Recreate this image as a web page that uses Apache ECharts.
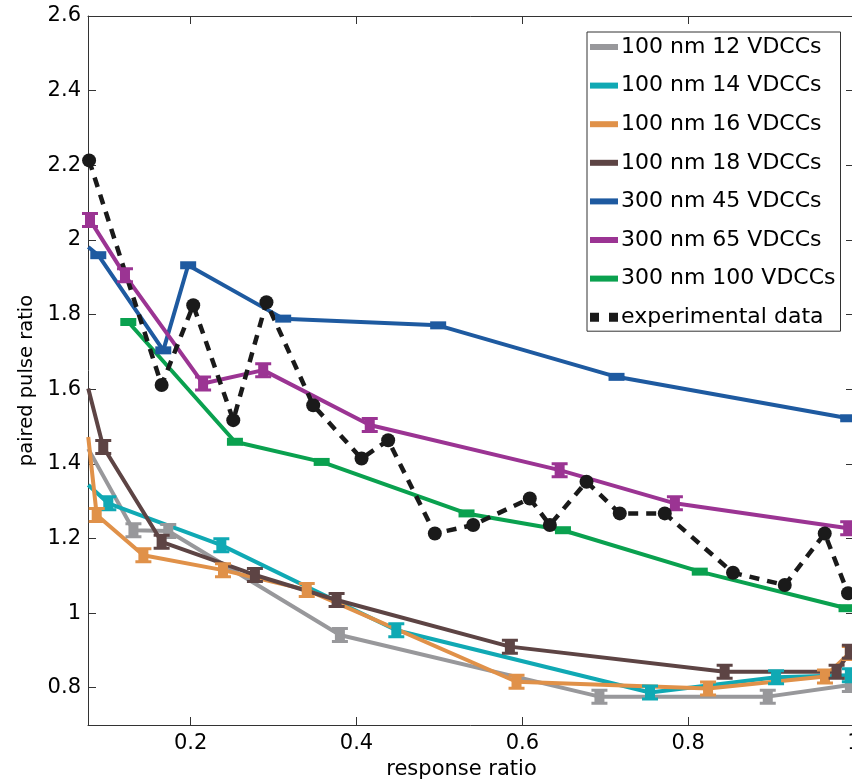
<!DOCTYPE html>
<html>
<head>
<meta charset="utf-8">
<script src="https://cdn.jsdelivr.net/npm/echarts@6/dist/echarts.min.js"></script>
<style>
html, body { margin: 0; padding: 0; background: #fff; }
#chart { width: 852px; height: 779px; }
</style>
</head>
<body>
<div id="chart"></div>
<script>
"use strict";

// axis ranges
var xMin = 0.0762, xMax = 1.0;
var yMin = 0.7, yMax = 2.6;

// 100 nm 12 VDCCs
var gray12X = [0.0765, 0.131, 0.173, 0.380, 0.693, 0.896, 0.995];
var gray12Y = [1.44, 1.222, 1.220, 0.941, 0.776, 0.776, 0.807];
// 100 nm 14 VDCCs
var cyan14X = [0.0765, 0.1007, 0.237, 0.448, 0.754, 0.906, 0.995];
var cyan14Y = [1.343, 1.294, 1.182, 0.954, 0.787, 0.828, 0.833];
// 100 nm 16 VDCCs
var orange16X = [0.0765, 0.0867, 0.143, 0.239, 0.340, 0.593, 0.824, 0.965, 0.995];
var orange16Y = [1.472, 1.263, 1.155, 1.115, 1.062, 0.816, 0.798, 0.830, 0.893];
// 100 nm 18 VDCCs
var brown18X = [0.0765, 0.0946, 0.165, 0.2775, 0.376, 0.585, 0.844, 0.979, 0.995];
var brown18Y = [1.602, 1.445, 1.191, 1.102, 1.035, 0.910, 0.843, 0.843, 0.896];
// 300 nm 45 VDCCs
var blue45X = [0.0765, 0.0886, 0.167, 0.197, 0.3116, 0.4985, 0.7136, 0.993];
var blue45Y = [1.981, 1.959, 1.704, 1.932, 1.789, 1.771, 1.633, 1.522];
// 300 nm 65 VDCCs
var purple65X = [0.0786, 0.1208, 0.215, 0.2875, 0.416, 0.645, 0.784, 0.993];
var purple65Y = [2.053, 1.905, 1.615, 1.651, 1.504, 1.383, 1.294, 1.227];
// 300 nm 100 VDCCs
var green100X = [0.1248, 0.2534, 0.358, 0.5327, 0.649, 0.814, 0.991];
var green100Y = [1.780, 1.459, 1.405, 1.267, 1.222, 1.111, 1.013];
// experimental data
var expX = [0.0775, 0.165, 0.2031, 0.2514, 0.2914, 0.3478, 0.4061, 0.4382, 0.4945, 0.5407,
            0.609, 0.6332, 0.6774, 0.7175, 0.7718, 0.8541, 0.9165, 0.9647, 0.9928];
var expY = [2.213, 1.611, 1.825, 1.517, 1.833, 1.557, 1.414, 1.463, 1.213, 1.236,
            1.307, 1.236, 1.352, 1.267, 1.267, 1.108, 1.075, 1.213, 1.053];

var FONT = 'DejaVu Sans';
var IBEAM = 'path://M0,0h16v3h-3v10h3v3h-16v-3h3v-10h-3z';
var FLAT = 'path://M0,0h16v8h-16z';
var LEG_BAR = 'path://M0,0M28,10M0,2h28v6h-28z';
var LEG_DASH = 'path://M0,0M28,10M0,0.5h9v9h-9zM19,0.5h9v9h-9z';

function zip(xs, ys) {
    var out = [];
    for (var i = 0; i < xs.length; i++) out.push([xs[i], ys[i]]);
    return out;
}

function simSeries(name, xs, ys, color, symbol, size, hideFirst) {
    return {
        name: name,
        type: 'line',
        data: zip(xs, ys),
        symbol: symbol,
        symbolSize: function (v, p) { return (hideFirst && p.dataIndex === 0) ? 0 : size; },
        showSymbol: true,
        lineStyle: { color: color, width: 4 },
        itemStyle: { color: color, borderWidth: 0 },
        emphasis: { disabled: true },
        animation: false
    };
}

var chart = echarts.init(document.getElementById('chart'));

var axisLine = { show: true, onZero: false, lineStyle: { color: '#333', width: 1 } };
var axisTick = { show: true, inside: true, length: 8, lineStyle: { color: '#333', width: 1 } };

var option = {
    backgroundColor: '#fff',
    animation: false,
    grid: { left: 88, right: -2, top: 16, bottom: 54, containLabel: false, outerBoundsMode: 'none' },
    legend: {
        orient: 'vertical',
        left: 587,
        top: 32,
        padding: [4, 5, 3, 3],
        itemWidth: 28,
        itemHeight: 10,
        itemGap: 16.6,
        itemStyle: { borderWidth: 0 },
        borderColor: '#333',
        borderWidth: 1,
        backgroundColor: '#fff',
        textStyle: { color: '#000', fontSize: 22, fontFamily: FONT, lineHeight: 22, padding: [0, 0, 0, -2] },
        data: [
            { name: '100 nm 12 VDCCs', icon: LEG_BAR },
            { name: '100 nm 14 VDCCs', icon: LEG_BAR },
            { name: '100 nm 16 VDCCs', icon: LEG_BAR },
            { name: '100 nm 18 VDCCs', icon: LEG_BAR },
            { name: '300 nm 45 VDCCs', icon: LEG_BAR },
            { name: '300 nm 65 VDCCs', icon: LEG_BAR },
            { name: '300 nm 100 VDCCs', icon: LEG_BAR },
            { name: 'experimental data', icon: LEG_DASH }
        ]
    },
    xAxis: [{
        type: 'value', min: xMin, max: xMax, splitNumber: 5, position: 'bottom',
        axisLine: axisLine, axisTick: axisTick, splitLine: { show: false },
        axisLabel: { showMinLabel: false, color: '#000', fontSize: 21, fontFamily: FONT, margin: 8 },
        name: 'response ratio', nameLocation: 'middle', nameGap: 28,
        nameTextStyle: { color: '#000', fontSize: 21, fontFamily: FONT, padding: [0, 19, 0, 0] }
    }, {
        type: 'value', min: xMin, max: xMax, splitNumber: 5, position: 'top',
        axisLine: axisLine, axisTick: axisTick, splitLine: { show: false },
        axisLabel: { show: false }
    }],
    yAxis: [{
        type: 'value', min: yMin, max: yMax, splitNumber: 10, position: 'left',
        axisLine: axisLine, axisTick: axisTick, splitLine: { show: false },
        axisLabel: { showMinLabel: false, color: '#000', fontSize: 21, fontFamily: FONT, margin: 7 },
        name: 'paired pulse ratio', nameLocation: 'middle', nameGap: 51,
        nameTextStyle: { color: '#000', fontSize: 19.5, fontFamily: FONT, padding: [0, 20, 0, 0] }
    }, {
        type: 'value', min: yMin, max: yMax, splitNumber: 10, position: 'right',
        axisLine: axisLine, axisTick: axisTick, splitLine: { show: false },
        axisLabel: { show: false }
    }],
    series: [
        simSeries('100 nm 12 VDCCs', gray12X, gray12Y, '#98989b', IBEAM, 16, true),
        simSeries('100 nm 14 VDCCs', cyan14X, cyan14Y, '#10a9b4', IBEAM, 16, true),
        simSeries('100 nm 16 VDCCs', orange16X, orange16Y, '#e09149', IBEAM, 16, true),
        simSeries('100 nm 18 VDCCs', brown18X, brown18Y, '#5d4444', IBEAM, 16, true),
        simSeries('300 nm 45 VDCCs', blue45X, blue45Y, '#1e5aa0', FLAT, [16, 8], true),
        simSeries('300 nm 65 VDCCs', purple65X, purple65Y, '#9b3493', IBEAM, 16, false),
        simSeries('300 nm 100 VDCCs', green100X, green100Y, '#0aa14f', FLAT, [16, 8], false),
        {
            name: 'experimental data',
            type: 'line',
            data: zip(expX, expY),
            symbol: 'circle',
            symbolSize: 14,
            showSymbol: true,
            lineStyle: { color: '#1a1a1a', width: 4.5, type: [10, 8] },
            itemStyle: { color: '#1a1a1a', borderWidth: 0 },
            emphasis: { disabled: true },
            animation: false
        }
    ]
};

chart.setOption(option);
</script>
</body>
</html>
